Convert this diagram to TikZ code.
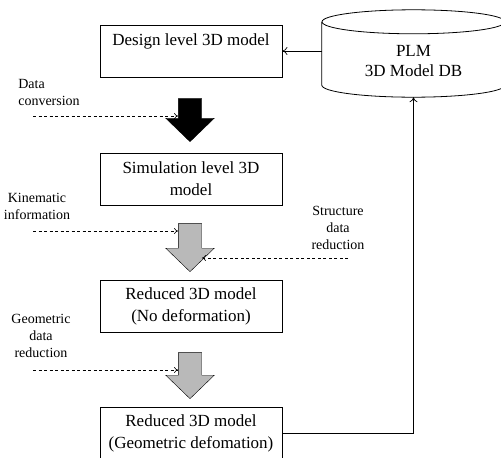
\documentclass[tikz,border=0pt]{standalone}
\usepackage{fontspec}
\setmainfont{Liberation Serif}
\usetikzlibrary{shapes.arrows,arrows.meta}

\tikzset{
    modelbox/.style={draw, line width=0.8pt, minimum width=182pt, minimum height=52pt,
        align=center, font=\fontsize{17}{22}\selectfont, inner sep=2pt},
    dbase/.style={minimum width=183pt, minimum height=63pt, inner sep=0pt},
    blockarrow/.style={draw, single arrow, shape border rotate=270,
        minimum height=#1, single arrow head extend=12.5pt,
        single arrow tip angle=92, inner sep=11.5pt},
    sidenote/.style={align=center, font=\fontsize{14}{17}\selectfont, inner sep=1pt},
    feed/.style={-{To[length=4pt,width=6pt]}, dash pattern=on 3pt off 2.5pt, line width=0.6pt},
    link/.style={-{To[length=5pt,width=8pt]}, line width=0.7pt}
}

\begin{document}
\begin{tikzpicture}[x=1pt, y=-1pt]

    \useasboundingbox (0,0) rectangle (501,458);
    \clip (0,0) rectangle (501,458);

% Modelos
	\node[modelbox] (design) at (191,51) {Design level 3D model\\\mbox{}};
	\node[modelbox] (sim) at (191,179) {Simulation level 3D\\model};
	\node[modelbox] (nodef) at (191,306) {Reduced 3D model\\(No deformation)};
	\node[modelbox] (geodef) at (191,433) {Reduced 3D model\\(Geometric defomation)};

% Base de datos (cilindro)
	\node[dbase, label={[align=center, font=\fontsize{17}{20}\selectfont, yshift=-8pt]center:PLM\\3D Model DB}]
		(plm) at (413.5,53.5) {};
	\draw[line width=0.8pt] (plm.north west) -- (plm.south west)
		arc[start angle=180, end angle=0, x radius=91.5, y radius=12] -- (plm.north east);
	\draw[line width=0.8pt] (plm.north) ellipse[x radius=91.5, y radius=12];

% Flechas de bloque
	\node[blockarrow=43pt, fill=black] (conv) at (190,114.5) {};
	\node[blockarrow=48pt, fill=gray!55] (kin) at (190,242) {};
	\node[blockarrow=46pt, fill=gray!55] (geo) at (190,370) {};

% Entradas
	\node[sidenote, align=left] (convtxt) at (49,92) {Data\\conversion};
	\node[sidenote] (kintxt) at (37,206) {Kinematic\\information};
	\node[sidenote] (strtxt) at (338,228) {Structure\\data\\reduction};
	\node[sidenote] (geotxt) at (41,336) {Geometric\\data\\reduction};

	\coordinate (convin) at (33,116);
	\coordinate (kinin) at (33,231);
	\coordinate (strin) at (348,258);
	\coordinate (geoin) at (33,370);

	\draw[feed] (convin) -- (convin -| conv.west);
	\draw[feed] (kinin) -- (kinin -| kin.west);
	\draw[feed] (strin) -- (strin -| kin.east);
	\draw[feed] (geoin) -- (geoin -| geo.west);

% Enlaces con la base de datos
	\draw[link] (design.east -| plm.west) -- (design.east);
	\draw[link] (geodef.east) -| ([yshift=-12pt]plm.south);

\end{tikzpicture}
\end{document}
